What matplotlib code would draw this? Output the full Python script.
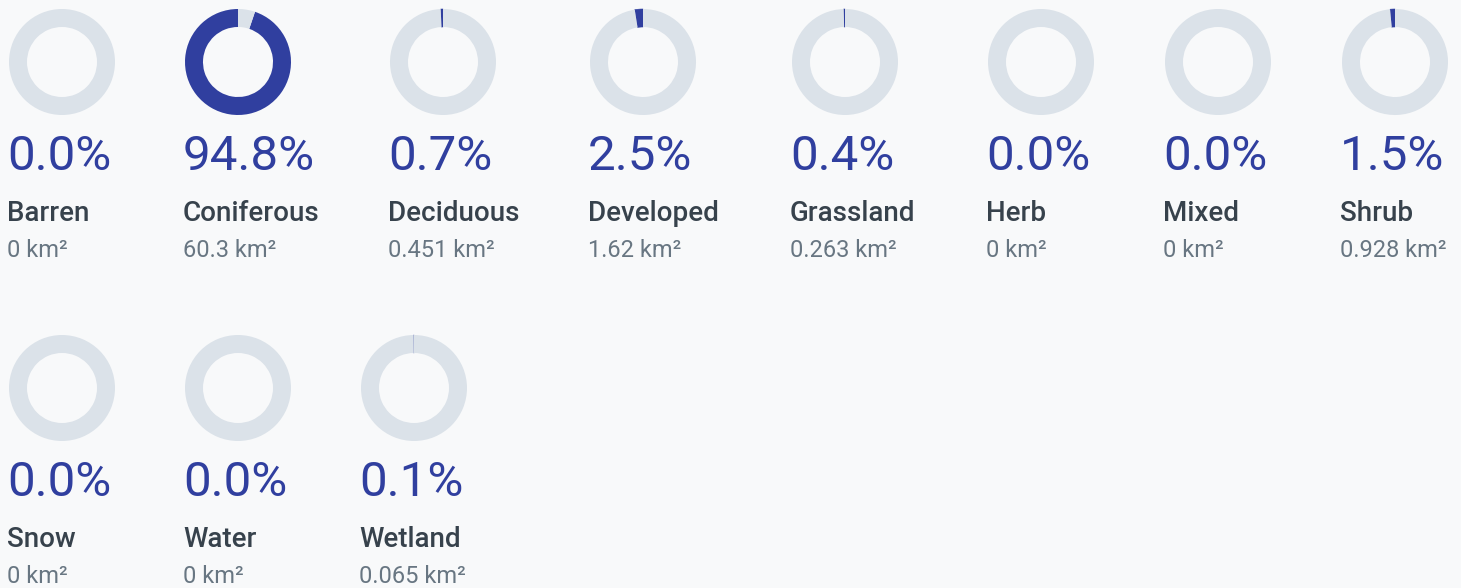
import matplotlib
matplotlib.use("Agg")
import matplotlib.pyplot as plt

# ---- data ----
categories = ["Barren", "Coniferous", "Deciduous", "Developed", "Grassland",
              "Herb", "Mixed", "Shrub", "Snow", "Water", "Wetland"]
percent = [0.0, 94.8, 0.7, 2.5, 0.4, 0.0, 0.0, 1.5, 0.0, 0.0, 0.1]
area_km2 = [0, 60.3, 0.451, 1.62, 0.263, 0, 0, 0.928, 0, 0, 0.065]

# ---- layout (pixels) ----
W, H = 1461, 588
item_left = [9, 185, 390, 590, 792, 988, 1165, 1342, 9, 185, 361]
item_row = [0, 0, 0, 0, 0, 0, 0, 0, 1, 1, 1]
row_offset = 326
donut_r = 53
ring_w = 18

BG = "#f8f9fa"
BLUE = "#303f9f"
RING = "#dbe2e9"
LABEL_C = "#37424c"
AREA_C = "#687682"

fig = plt.figure(figsize=(W / 100, H / 100), dpi=100, facecolor=BG)
base = fig.add_axes([0, 0, 1, 1])
base.set_xlim(0, W)
base.set_ylim(H, 0)
base.axis("off")
base.set_facecolor(BG)

for i, cat in enumerate(categories):
    x0 = item_left[i]
    dy = item_row[i] * row_offset
    cx = x0 + donut_r
    cy = 62 + dy
    ax = fig.add_axes([(cx - donut_r) / W, 1 - (cy + donut_r) / H,
                       2 * donut_r / W, 2 * donut_r / H])
    wedges, _ = ax.pie([percent[i], 100 - percent[i]], colors=[BLUE, RING], startangle=90,
                       counterclock=True, radius=1.0,
                       wedgeprops=dict(width=ring_w / donut_r, linewidth=0))
    if 0 < percent[i] < 5:
        wedges[0].set_edgecolor(BLUE)
        wedges[0].set_linewidth(0.4)
        wedges[0].set_alpha(0.85 if percent[i] < 0.3 else 1.0)
    ax.set_xlim(-1, 1)
    ax.set_ylim(-1, 1)
    ax.set_aspect("equal")
    ax.axis("off")

    base.text(x0 - 2, 170 + dy, f"{percent[i]:.1f}%", fontsize=35.5, family="Roboto",
              color=BLUE, va="baseline", ha="left")
    base.text(x0 - 2, 221 + dy, cat, fontsize=20, family="Roboto", weight="medium",
              color=LABEL_C, va="baseline", ha="left")
    base.text(x0 - 2, 257 + dy, f"{area_km2[i]:g} km²", fontsize=17, family="Roboto",
              color=AREA_C, va="baseline", ha="left")

fig.savefig("out.png", dpi=100, facecolor=BG)
